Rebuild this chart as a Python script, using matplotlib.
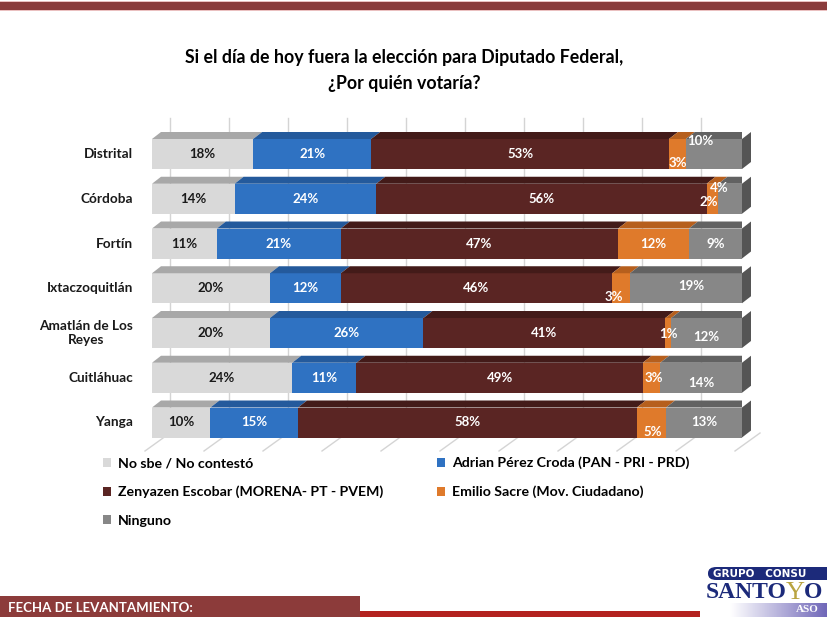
import matplotlib
matplotlib.use("Agg")
import matplotlib.pyplot as plt
import numpy as np
from matplotlib.patches import Polygon, Rectangle, FancyBboxPatch
from matplotlib.colors import LinearSegmentedColormap

plt.rcParams['font.family'] = ['Lato', 'DejaVu Sans']

# datos
municipios = ["Distrital", "Córdoba", "Fortín", "Ixtaczoquitlán",
              "Amatlán de Los\nReyes", "Cuitláhuac", "Yanga"]
series = ["No sbe / No contestó", "Adrian Pérez Croda (PAN - PRI - PRD)",
          "Zenyazen Escobar (MORENA- PT - PVEM)", "Emilio Sacre (Mov. Ciudadano)",
          "Ninguno"]
no_sabe = [18, 14, 11, 20, 20, 24, 10]
adrian = [21, 24, 21, 12, 26, 11, 15]
zenyazen = [53, 56, 47, 46, 41, 49, 58]
emilio = [3, 2, 12, 3, 1, 3, 5]
ninguno = [10, 4, 9, 19, 12, 14, 13]

valores = np.array([no_sabe, adrian, zenyazen, emilio, ninguno], dtype=float)
pct = valores / valores.sum(axis=0) * 100  # barras apiladas al 100%

frente = ['#d9d9d9', '#2f72c2', '#5a2523', '#df7a2b', '#878787']
arriba = ['#a8a8a8', '#245a9c', '#431b19', '#b65f1d', '#626262']
lado = '#555555'
texto_col = ['#1a1a1a', 'white', 'white', 'white', 'white']

# ajustes de etiquetas a mano (px): (fila, serie) -> (dx, dy)
ajustes = {(0, 4): (-14, -13), (0, 3): (0, 9), (1, 3): (-4, 3), (1, 4): (-11, -11),
           (3, 3): (-7, 9), (3, 4): (5, -2), (4, 3): (0, 1), (4, 4): (0, 4),
           (5, 3): (2, 0), (5, 4): (0, 5), (6, 3): (1, 10)}

W, H = 828, 617
fig = plt.figure(figsize=(W / 100, H / 100), dpi=100)

# eje: x 0..100 -> px 152..742, filas separadas 44.75 px, centro fila 0 en px 154
px_x = 5.9
px_y = 44.75
top_px, bot_px = 110, 470
ax = fig.add_axes([152 / W, 1 - bot_px / H, 590 / W, (bot_px - top_px) / H])
ax.set_xlim(0, 100)
ax.set_ylim((bot_px - 154) / px_y, (top_px - 154) / px_y)
ax.axis('off')

alto = 30 / px_y
ddx = 9 / px_x
ddy = 7 / px_y

# pared del fondo y piso
for k in range(11):
    xb = 10 * k + 18 / px_x
    ax.plot([xb, xb], [-36 / px_y, 279 / px_y], color='#d4d4d4', lw=1, zorder=0)
    ax.plot([xb, xb - 25 / px_x], [279 / px_y, 297 / px_y], color='#d4d4d4',
            lw=1, zorder=0, clip_on=False)

filas = np.arange(len(municipios))
for i in filas:
    izq = 0
    yt = i - alto / 2
    yb = i + alto / 2
    for s in range(len(series)):
        w = pct[s, i]
        ax.barh(i, w, left=izq, height=alto, color=frente[s], zorder=2,
                label=series[s] if i == 0 else None)
        ax.add_patch(Polygon([(izq, yt), (izq + w, yt), (izq + w + ddx, yt - ddy),
                              (izq + ddx, yt - ddy)], closed=True,
                             facecolor=arriba[s], edgecolor='none', zorder=2))
        dx, dy = ajustes.get((i, s), (0, 0))
        ax.text(izq + w / 2 + dx / px_x, i + dy / px_y, f"{int(valores[s, i])}%",
                ha='center', va='center', fontsize=9.5, fontweight='bold',
                color=texto_col[s], zorder=4)
        izq += w
    ax.add_patch(Polygon([(100, yt), (100 + ddx, yt - ddy), (100 + ddx, yb - ddy),
                          (100, yb)], closed=True, facecolor=lado,
                         edgecolor='none', zorder=2, clip_on=False))
    ax.text(-19 / px_x, i, municipios[i], ha='right', va='center',
            multialignment='center', fontsize=9.8, fontweight='bold',
            color='#1a1a1a')

# leyenda
h, l = ax.get_legend_handles_labels()
orden = [0, 2, 4, 1, 3]
fig.legend([h[j] for j in orden], [l[j] for j in orden], ncol=2,
           loc='upper left', bbox_to_anchor=(90 / W, 1 - 444 / H),
           frameon=False, handlelength=0.6, handleheight=0.6, handletextpad=0.5,
           labelspacing=1.15, columnspacing=3.75,
           prop={'weight': 'bold', 'size': 10.2})

# titulo
fig.text(404 / W, 1 - 58 / H, "Si el día de hoy fuera la elección para Diputado Federal,",
         ha='center', va='center', fontsize=12.8, fontweight='bold')
fig.text(404 / W, 1 - 84 / H, "¿Por quién votaría?", ha='center', va='center',
         fontsize=12.8, fontweight='bold')

# franja superior
fig.patches.append(Rectangle((0, 1 - 11 / H), 1, 10 / H, transform=fig.transFigure,
                             facecolor='#eac0c0', edgecolor='none'))
fig.patches.append(Rectangle((0, 1 - 9.5 / H), 1, 7 / H, transform=fig.transFigure,
                             facecolor='#8a3b3b', edgecolor='none'))

# pie
fig.patches.append(Rectangle((0, 0), 360 / W, 21 / H, transform=fig.transFigure,
                             facecolor='#8c3b3a', edgecolor='none'))
fig.patches.append(Rectangle((360 / W, 0), 340 / W, 6 / H, transform=fig.transFigure,
                             facecolor='#b3221f', edgecolor='none'))
fig.text(8 / W, 9 / H, "FECHA DE LEVANTAMIENTO:", ha='left', va='center',
         fontsize=9.5, fontweight='bold', color='white')

# logo
fig.patches.append(FancyBboxPatch((708 / W, 1 - 580 / H), 130 / W, 13 / H,
                                  boxstyle='round,pad=0,rounding_size=0.01',
                                  transform=fig.transFigure, facecolor='#1c2a7a',
                                  edgecolor='none'))
fig.text(713 / W, 1 - 574 / H, "GRUPO   CONSU", ha='left', va='center',
         fontsize=7.5, color='white', family='DejaVu Sans', fontweight='bold')
grad = LinearSegmentedColormap.from_list('g', ['#ffffff', '#6f66b8'])
gax = fig.add_axes([730 / W, 0, 98 / W, 14 / H])
gax.imshow(np.linspace(0, 1, 100)[None, :], aspect='auto', cmap=grad)
gax.axis('off')
fig.text(706 / W, 1 - 593 / H, "SANTO", ha='left', va='center', fontsize=17,
         color='#1c2a7a', family='Liberation Serif', fontweight='bold')
fig.text(786 / W, 1 - 593 / H, "Y", ha='left', va='center', fontsize=19,
         color='#b9a441', family='Liberation Serif')
fig.text(804 / W, 1 - 593 / H, "O", ha='left', va='center', fontsize=17,
         color='#1c2a7a', family='Liberation Serif', fontweight='bold')
fig.text(796 / W, 7 / H, "ASO", ha='left', va='center', fontsize=8,
         color='white', family='Liberation Serif', fontweight='bold')

fig.savefig("out.png", dpi=100)
